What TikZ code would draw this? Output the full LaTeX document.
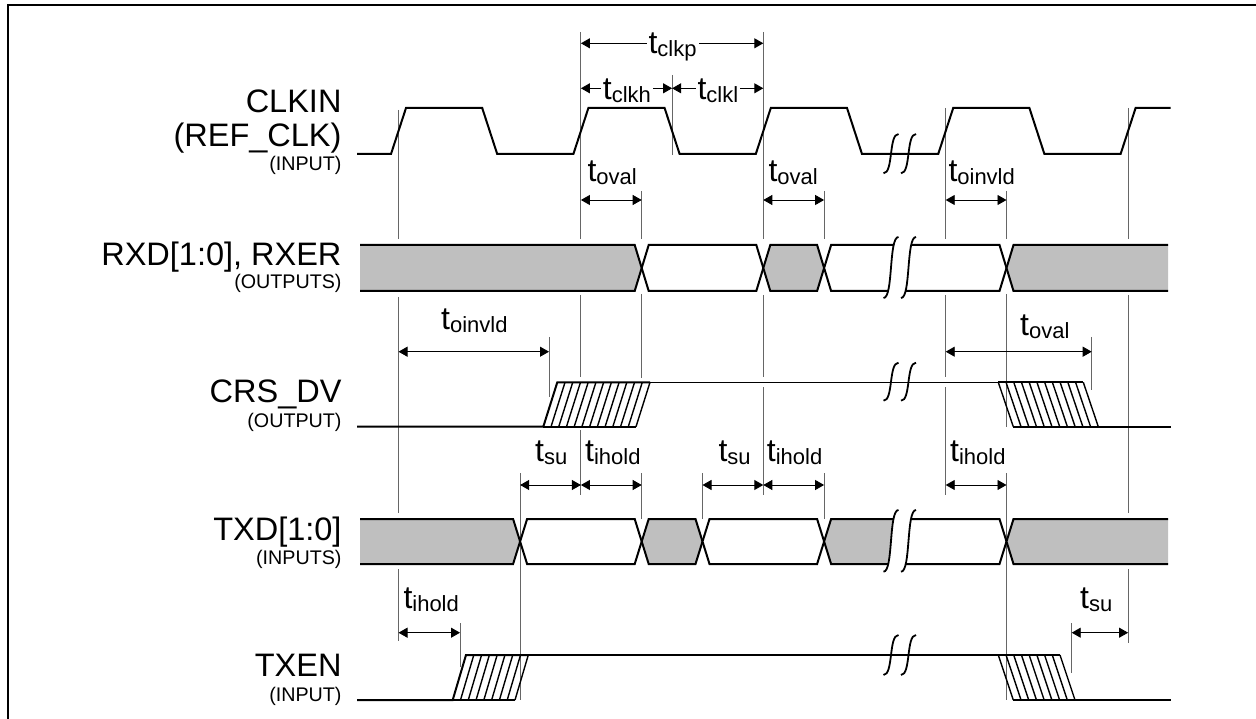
\documentclass[tikz,border=0pt]{standalone}
\usepackage{fontspec}
\setmainfont{Liberation Sans}
\usetikzlibrary{arrows.meta}
\newcommand{\tsub}[1]{{\fontsize{32}{32}\selectfont t}{\fontsize{22}{22}\selectfont\raisebox{-3pt}{#1}}}
% integral-like break curve from bottom (#3) to top (#2) around x=#1
\newcommand{\brkUp}[3]{({#1-7.5},#3) .. controls ({#1+2.5},#3) and ({#1-2.5},#2) .. ({#1+7.5},#2)}
\newcommand{\brkDown}[3]{({#1+7.5},#2) .. controls ({#1-2.5},#2) and ({#1+2.5},#3) .. ({#1-7.5},#3)}
\begin{document}
\begin{tikzpicture}[x=1pt,y=-1pt,
  wave/.style={line width=2pt, line join=miter},
  thinwave/.style={line width=1.5pt},
  guide/.style={line width=1pt, draw=black!60},
  dim/.style={line width=0.9pt, {Triangle[length=9pt,width=10pt]}-{Triangle[length=9pt,width=10pt]}},
  hatchl/.style={line width=1.4pt},
  busline/.style={line width=2pt, line join=miter},
  brkline/.style={line width=1.8pt},
  sig/.style={font=\fontsize{32.5}{32.5}\selectfont, anchor=base east, inner sep=0pt},
  sub/.style={font=\fontsize{19.7}{19.7}\selectfont, anchor=base east, inner sep=0pt},
  tlab/.style={anchor=base west, inner sep=0pt},
  tlabw/.style={anchor=base west, inner ysep=0pt, inner xsep=2pt, fill=white},
]
\useasboundingbox (0,0) rectangle (1256,719);
% frame
\draw[line width=2pt] (8,719) -- (8,5.5) -- (1256,5.5);

% guide lines
\foreach \x/\a/\b in {398.5/110/239, 398.5/297/513, 398.5/569/641,
  580.9/32/239, 580.9/295/377, 580.9/430/495,
  641.7/191/239, 641.7/294/378, 641.7/473/519,
  672.1/75/155,
  763.3/32/239, 763.3/295/377, 763.3/387/495,
  824.1/191/239, 824.1/473/519,
  945.7/108/239, 945.7/295/377, 945.7/387/495,
  1006.5/191/239, 1006.5/294/427, 1006.5/473/700,
  1128.1/108/239, 1128.1/295/513, 1128.1/569/643,
  520.1/473/700, 702.5/473/519,
  549/337/397, 1091.7/337/390, 460/623/667, 1071.7/623/673}
  \draw[guide] (\x,\a) -- (\x,\b);

% CLKIN
\draw[wave] (357,154) -- (391,154) -- (406,108) -- (482.2,108) -- (497.2,154) -- (573.4,154) -- (588.4,108) -- (664.6,108) -- (679.6,154) -- (755.8,154) -- (770.8,108) -- (847,108) -- (862,154) -- (938.2,154) -- (953.2,108) -- (1029.4,108) -- (1044.4,154) -- (1120.6,154) -- (1135.6,108) -- (1170.7,108);

% RXD bus (top 245, bottom 291, mid 268)
\fill[black!25] (360,245) -- (634.7,245) -- (641.7,268) -- (634.7,291) -- (360,291) -- cycle;
\draw[busline] (360,245) -- (634.7,245) -- (641.7,268) -- (634.7,291) -- (360,291);
\draw[busline, fill=white] (641.7,268) -- (648.7,245) -- (756.3,245) -- (763.3,268) -- (756.3,291) -- (648.7,291) -- cycle;
\draw[busline, fill=black!25] (763.3,268) -- (770.3,245) -- (817.1,245) -- (824.1,268) -- (817.1,291) -- (770.3,291) -- cycle;
\draw[busline, fill=white] (824.1,268) -- (831.1,245) -- (999.5,245) -- (1006.5,268) -- (999.5,291) -- (831.1,291) -- cycle;
\fill[black!25] (1006.5,268) -- (1013.5,245) -- (1168,245) -- (1168,291) -- (1013.5,291) -- cycle;
\draw[busline] (1168,245) -- (1013.5,245) -- (1006.5,268) -- (1013.5,291) -- (1168,291);

% TXD bus (top 519, bottom 564, mid 541.5)
\fill[black!25] (360,519) -- (513.1,519) -- (520.1,541.5) -- (513.1,564) -- (360,564) -- cycle;
\draw[busline] (360,519) -- (513.1,519) -- (520.1,541.5) -- (513.1,564) -- (360,564);
\draw[busline, fill=white] (520.1,541.5) -- (527.1,519) -- (634.7,519) -- (641.7,541.5) -- (634.7,564) -- (527.1,564) -- cycle;
\draw[busline, fill=black!25] (641.7,541.5) -- (648.7,519) -- (695.5,519) -- (702.5,541.5) -- (695.5,564) -- (648.7,564) -- cycle;
\draw[busline, fill=white] (702.5,541.5) -- (709.5,519) -- (817.1,519) -- (824.1,541.5) -- (817.1,564) -- (709.5,564) -- cycle;
\fill[white] (824.1,541.5) -- (831.1,519) -- (999.5,519) -- (1006.5,541.5) -- (999.5,564) -- (831.1,564) -- cycle;
\fill[black!25] (824.1,541.5) -- (831.1,519) -- (899,519) -- (899,564) -- (831.1,564) -- cycle;
\draw[busline] (824.1,541.5) -- (831.1,519) -- (999.5,519) -- (1006.5,541.5) -- (999.5,564) -- (831.1,564) -- cycle;
\fill[black!25] (1006.5,541.5) -- (1013.5,519) -- (1168,519) -- (1168,564) -- (1013.5,564) -- cycle;
\draw[busline] (1168,519) -- (1013.5,519) -- (1006.5,541.5) -- (1013.5,564) -- (1168,564);

% CRS_DV
\draw[wave] (357,426.7) -- (543.3,426.7) -- (557.3,382.3) -- (650,382.3);
\draw[wave] (543.3,426.7) -- (636,426.7);
\foreach \i in {1,...,12} \draw[hatchl] ({543.3+\i*7.725},426.7) -- ({557.3+\i*7.725},382.3);
\draw[thinwave] (650,382.3) -- (998.3,382.3);
\draw[wave] (998.3,382.3) -- (1083.3,382.3);
\draw[wave] (1013.3,426.7) -- (1170.7,426.7);
\foreach \i in {0,...,11} \draw[hatchl] ({998.3+\i*7.727},382.3) -- ({1013.3+\i*7.727},426.7);

% TXEN
\draw[wave] (357,700) -- (452.7,700) -- (466,655) -- (528.3,655);
\draw[wave] (452.7,700) -- (515,700);
\foreach \i in {1,...,8} \draw[hatchl] ({452.7+\i*7.7875},700) -- ({466+\i*7.7875},655);
\draw[thinwave] (528.3,655) -- (998.3,655);
\draw[wave] (998.3,655) -- (1060,655);
\draw[wave] (1013.3,700) -- (1170.7,700);
\foreach \i in {0,...,8} \draw[hatchl] ({998.3+\i*7.7125},655) -- ({1013.3+\i*7.7125},700);

% break marks
\foreach \t/\b in {134/173.3, 362.7/400.7, 635/675}{
  \draw[brkline] \brkUp{891}{\t}{\b};
  \draw[brkline] \brkUp{908.5}{\t}{\b};
}
\foreach \t/\b in {237/298, 510/571.7}{
  \fill[white] \brkUp{891}{\t}{\b} -- \brkDown{908.5}{\t}{\b} -- cycle;
  \draw[brkline] \brkUp{891}{\t}{\b};
  \draw[brkline] \brkUp{908.5}{\t}{\b};
}

% dimension arrows
\draw[dim] (580.9,43.3) -- (763.3,43.3);
\draw[dim] (580.9,88.3) -- (672.1,88.3);
\draw[dim] (672.1,88.3) -- (763.3,88.3);
\draw[dim] (580.9,200) -- (641.7,200);
\draw[dim] (763.3,200) -- (824.1,200);
\draw[dim] (945.7,200) -- (1006.5,200);
\draw[dim] (398.5,351.7) -- (549,351.7);
\draw[dim] (945.7,351.7) -- (1091.7,351.7);
\draw[dim] (520.1,485) -- (580.9,485);
\draw[dim] (580.9,485) -- (641.7,485);
\draw[dim] (702.5,485) -- (763.3,485);
\draw[dim] (763.3,485) -- (824.1,485);
\draw[dim] (945.7,485) -- (1006.5,485);
\draw[dim] (398.5,632.7) -- (460,632.7);
\draw[dim] (1071.7,632.7) -- (1128.1,632.7);

% timing labels
\node[tlabw] (lclkp) at (646.3,53.3) {\tsub{clkp}};
\node[tlabw] (lclkh) at (600.7,99.3) {\tsub{clkh}};
\node[tlabw] (lclkl) at (695.3,99.3) {\tsub{clkl}};
\node[tlab] (loval1) at (587.3,181.7) {\tsub{oval}};
\node[tlab] (loval2) at (768.3,181.7) {\tsub{oval}};
\node[tlab] (loinv1) at (948.3,181.7) {\tsub{oinvld}};
\node[tlab] (loinv2) at (441,330) {\tsub{oinvld}};
\node[tlab] (loval3) at (1020,336) {\tsub{oval}};
\node[tlab] (lsu1) at (535,461.7) {\tsub{su}};
\node[tlab] (lih1) at (585,461.7) {\tsub{ihold}};
\node[tlab] (lsu2) at (718.3,461.7) {\tsub{su}};
\node[tlab] (lih2) at (766.7,461.7) {\tsub{ihold}};
\node[tlab] (lih3) at (950,461.7) {\tsub{ihold}};
\node[tlab] (lih4) at (403.3,608.3) {\tsub{ihold}};
\node[tlab] (lsu3) at (1080,608.3) {\tsub{su}};

% signal names
\node[sig] (nclk) at (341.7,113) {CLKIN};
\node[sig] (nref) at (341.7,146.7) {(REF\_CLK)};
\node[sub] (nclkin) at (341.7,171) {(INPUT)};
\node[sig] (nrxd) at (341.7,266) {RXD[1:0], RXER};
\node[sub] (nrxdo) at (341.7,289) {(OUTPUTS)};
\node[sig] (ncrs) at (341.7,402.7) {CRS\_DV};
\node[sub] (ncrso) at (341.7,427) {(OUTPUT)};
\node[sig] (ntxd) at (341.7,540) {TXD[1:0]};
\node[sub] (ntxdi) at (341.7,564) {(INPUTS)};
\node[sig] (ntxen) at (341.7,676) {TXEN};
\node[sub] (ntxeni) at (341.7,701) {(INPUT)};
\end{tikzpicture}
\end{document}
